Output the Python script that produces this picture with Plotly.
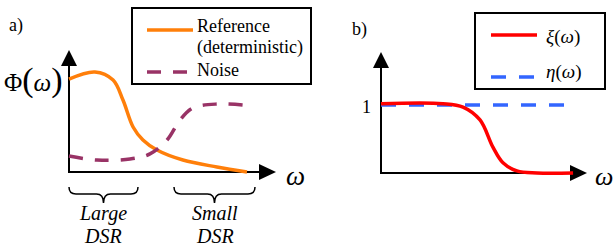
import plotly.graph_objects as go

W, H = 616, 249

# ---------------- data ----------------
# panel a (normalised omega, normalised Phi)
ref_x = [0.0, 0.126, 0.214, 0.262, 0.311, 0.359, 0.427, 0.553, 0.718, 0.864]
ref_y = [0.762, 0.820, 0.754, 0.590, 0.369, 0.262, 0.180, 0.098, 0.041, 0.0]
noise_x = [0.0, 0.136, 0.296, 0.393, 0.476, 0.539, 0.602, 0.718, 0.893]
noise_y = [0.131, 0.098, 0.107, 0.148, 0.262, 0.426, 0.525, 0.557, 0.541]
# panel b
xi_x = [0.0, 0.302, 0.400, 0.483, 0.546, 0.595, 0.663, 0.761, 0.937]
xi_y = [1.02, 1.02, 0.97, 0.78, 0.38, 0.15, 0.03, 0.0, 0.0]
eta_x = [0.0, 0.898]
eta_y = [1.0, 1.0]

legend_a = ["Reference", "(deterministic)", "Noise"]
legend_b = ["<i>ξ</i>(<i>ω</i>)", "<i>η</i>(<i>ω</i>)"]
region_labels = [("<i>Large</i>", "<i>DSR</i>"), ("<i>Small</i>", "<i>DSR</i>")]

C_ORANGE = "#FF7F0A"
C_PURPLE = "#993366"
C_RED = "#FF0000"
C_BLUE = "#3366FF"
FONT = "Times New Roman"


def px(x, y):
    return x / W, 1 - y / H


def axis_map(x0px, x1px, dom_x, y0px, y1px, dom_y, ymax=1.0):
    sx = x1px - x0px
    xr = [(dom_x[0] - x0px) / sx, (dom_x[1] - x0px) / sx]
    sy = (y0px - y1px) / ymax
    yr = [(y0px - dom_y[0]) / sy, (y0px - dom_y[1]) / sy]
    xd = [dom_x[0] / W, dom_x[1] / W]
    yd = [1 - dom_y[0] / H, 1 - dom_y[1] / H]
    return xd, xr, yd, yr


xa_d, xa_r, ya_d, ya_r = axis_map(69, 275, (60, 282), 172, 50, (182, 44))
xb_d, xb_r, yb_d, yb_r = axis_map(381, 586, (372, 593), 173, 105, (183, 46), ymax=1.0)

fig = go.Figure()
fig.add_trace(go.Scatter(x=ref_x, y=ref_y, mode="lines", line=dict(color=C_ORANGE, width=3.5, shape="spline", smoothing=1.0),
                         xaxis="x", yaxis="y", showlegend=False, hoverinfo="skip"))
fig.add_trace(go.Scatter(x=noise_x, y=noise_y, mode="lines", line=dict(color=C_PURPLE, width=3.5, dash="14px,12px", shape="spline", smoothing=1.0),
                         xaxis="x", yaxis="y", showlegend=False, hoverinfo="skip"))
fig.add_trace(go.Scatter(x=eta_x, y=eta_y, mode="lines", line=dict(color=C_BLUE, width=3.5, dash="15px,13px"),
                         xaxis="x2", yaxis="y2", showlegend=False, hoverinfo="skip"))
fig.add_trace(go.Scatter(x=xi_x, y=xi_y, mode="lines", line=dict(color=C_RED, width=3.5, shape="spline", smoothing=1.0),
                         xaxis="x2", yaxis="y2", showlegend=False, hoverinfo="skip"))

hidden = dict(visible=True, showgrid=False, zeroline=False, showticklabels=False, ticks="", showline=False, fixedrange=True)
fig.update_layout(
    width=W, height=H, margin=dict(l=0, r=0, t=0, b=0),
    paper_bgcolor="white", plot_bgcolor="rgba(0,0,0,0)",
    font=dict(family=FONT),
    xaxis=dict(domain=xa_d, range=xa_r, anchor="y", **hidden),
    yaxis=dict(domain=ya_d, range=ya_r, anchor="x", **hidden),
    xaxis2=dict(domain=xb_d, range=xb_r, anchor="y2", **hidden),
    yaxis2=dict(domain=yb_d, range=yb_r, anchor="x2", **hidden),
    showlegend=False,
)

shapes = []


def line_px(x0, y0, x1, y1, color="black", width=2, dash="solid", layer="below"):
    a = px(x0, y0)
    b = px(x1, y1)
    shapes.append(dict(type="line", xref="paper", yref="paper", x0=a[0], y0=a[1], x1=b[0], y1=b[1],
                       line=dict(color=color, width=width, dash=dash), layer=layer))


def poly_px(pts, fill="black"):
    d = "M " + " L ".join("%.5f,%.5f" % px(x, y) for x, y in pts) + " Z"
    shapes.append(dict(type="path", xref="paper", yref="paper", path=d, fillcolor=fill,
                       line=dict(color=fill, width=0), layer="below"))


def path_px(cmds, color="black", width=1.5):
    out = []
    for c in cmds:
        if isinstance(c, str):
            out.append(c)
        else:
            out.append("%.5f,%.5f" % px(*c))
    shapes.append(dict(type="path", xref="paper", yref="paper", path=" ".join(out),
                       line=dict(color=color, width=width), layer="above"))


def axes_arrows(ox, oy, top, right):
    line_px(ox, oy + 1, ox, top + 12)
    line_px(ox - 1, oy, right - 14, oy)
    poly_px([(ox, top), (ox - 8, top + 16), (ox + 8, top + 16)])
    poly_px([(right, oy), (right - 17, oy - 8), (right - 17, oy + 8)])


axes_arrows(69, 172, 50, 276)
axes_arrows(381, 173, 52, 587)


def brace(x0, x1, ytop, ybot):
    xm = (x0 + x1) / 2
    ymid = (ytop + ybot) / 2 - 1
    path_px(["M", (x0, ytop), "Q", (x0, ymid), (x0 + 7, ymid), "L", (xm - 7, ymid),
             "Q", (xm, ymid), (xm, ybot), "Q", (xm, ymid), (xm + 7, ymid), "L", (x1 - 7, ymid),
             "Q", (x1, ymid), (x1, ytop)])


brace(69, 138, 187, 203)
brace(174, 255, 187, 203)

for (x0, y0, x1, y1) in [(132, 8, 311, 84), (475, 13, 605, 89)]:
    a = px(x0, y0)
    b = px(x1, y1)
    shapes.append(dict(type="rect", xref="paper", yref="paper", x0=a[0], y0=a[1], x1=b[0], y1=b[1],
                       line=dict(color="black", width=2), fillcolor="white", layer="below"))

line_px(147, 30, 193, 30, color=C_ORANGE, width=3.5, layer="above")
line_px(147, 72, 193, 72, color=C_PURPLE, width=3.5, dash="14px,12px", layer="above")
line_px(491, 35, 537, 35, color=C_RED, width=3.5, layer="above")
line_px(491, 77, 537, 77, color=C_BLUE, width=3.5, dash="15px,13px", layer="above")

fig.update_layout(shapes=shapes)

ann = []


def text_px(x, y, s, size=18, xanchor="left", yanchor="middle"):
    p = px(x, y)
    ann.append(dict(x=p[0], y=p[1], xref="paper", yref="paper", text=s, showarrow=False,
                    xanchor=xanchor, yanchor=yanchor, borderpad=0,
                    font=dict(family=FONT, size=size, color="black")))


text_px(196, 26, legend_a[0])
text_px(196, 47, legend_a[1])
text_px(196, 70, legend_a[2])
text_px(545, 37, legend_b[0], size=19)
text_px(545, 72, legend_b[1], size=19)

text_px(8, 25, "a)")
text_px(351, 30, "b)")
text_px(372, 107, "1", xanchor="right")

text_px(3, 80, "Φ<span style='font-size:34px'>(</span><i>ω</i><span style='font-size:34px'>)</span>", size=25)
text_px(285, 176, "<i>ω</i>", size=27)
text_px(594, 176, "<i>ω</i>", size=26)

for (l1, l2), xc in zip(region_labels, [103, 215]):
    text_px(xc, 213, l1, size=20, xanchor="center")
    text_px(xc, 236, l2, size=20, xanchor="center")

fig.update_layout(annotations=ann)
fig.write_html("out.html", config={"displayModeBar": False},
               post_script="document.body.style.margin='0';document.body.style.padding='0';")
